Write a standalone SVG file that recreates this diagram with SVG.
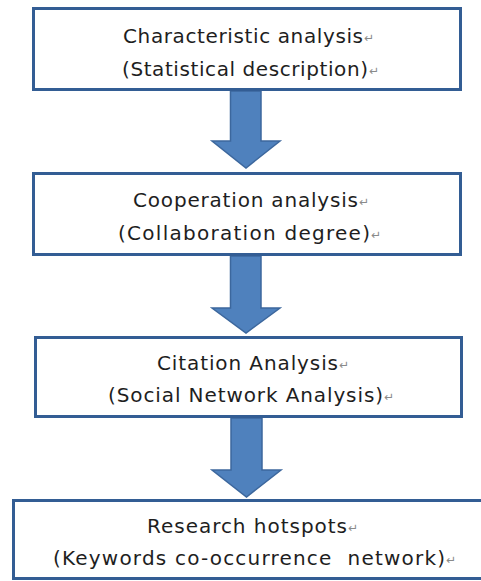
<svg xmlns="http://www.w3.org/2000/svg" width="481" height="581" viewBox="0 0 481 581">
<style>
.box{fill:#ffffff;stroke:#335d94;stroke-width:3}
.arrow{fill:#4f81bd;stroke:#3c679d;stroke-width:1.5;stroke-linejoin:miter}
.t{font-family:"DejaVu Sans","Verdana",sans-serif;font-size:20px;fill:#1e1e1e}
.rt{font-family:"DejaVu Sans",sans-serif;font-size:12px;fill:#8a8a8a}
</style>
<rect width="481" height="581" fill="#ffffff"/>
<g id="connectors">
<path class="arrow" d="M230.5,91 H261 V141 H280 L246,168 L212,141 H230.5 Z"/>
<path class="arrow" d="M230.5,256 H261 V308 H280 L246,333 L212,308 H230.5 Z"/>
<path class="arrow" d="M231,418 H262 V470 H281 L246.5,497 L212,470 H231 Z"/>
</g>
<g id="node1">
<rect class="box" x="33.5" y="8.5" width="427" height="81"/>
<text class="t" x="123" y="43" textLength="240" lengthAdjust="spacing">Characteristic analysis</text><text class="rt" x="364" y="42">↵</text>
<text class="t" x="122" y="76" textLength="246" lengthAdjust="spacing">(Statistical description)</text><text class="rt" x="369" y="75">↵</text>
</g>
<g id="node2">
<rect class="box" x="33.5" y="173.5" width="427" height="81"/>
<text class="t" x="133" y="207" textLength="225" lengthAdjust="spacing">Cooperation analysis</text><text class="rt" x="359" y="206">↵</text>
<text class="t" x="118" y="240" textLength="252" lengthAdjust="spacing">(Collaboration degree)</text><text class="rt" x="371" y="239">↵</text>
</g>
<g id="node3">
<rect class="box" x="35.5" y="337.5" width="426" height="79"/>
<text class="t" x="157" y="370" textLength="181" lengthAdjust="spacing">Citation Analysis</text><text class="rt" x="339" y="369">↵</text>
<text class="t" x="108" y="402" textLength="275" lengthAdjust="spacing">(Social Network Analysis)</text><text class="rt" x="384" y="401">↵</text>
</g>
<g id="node4">
<rect class="box" x="13.5" y="500.5" width="490" height="78"/>
<text class="t" x="147" y="533" textLength="200" lengthAdjust="spacing">Research hotspots</text><text class="rt" x="348" y="532">↵</text>
<text class="t" x="53" y="565" textLength="392" lengthAdjust="spacing" xml:space="preserve">(Keywords co-occurrence  network)</text><text class="rt" x="446" y="564">↵</text>
</g>
</svg>
